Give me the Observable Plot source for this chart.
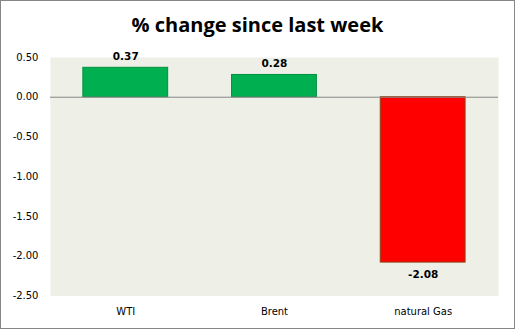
<!DOCTYPE html>
<html><head><meta charset="utf-8">
<script src="https://cdn.jsdelivr.net/npm/d3@7"></script>
<script src="https://cdn.jsdelivr.net/npm/@observablehq/plot@0.6"></script>
<style>
html,body{margin:0;padding:0;background:#fff;}
#wrap{position:relative;width:515px;height:329px;box-sizing:border-box;border:1px solid #868686;overflow:hidden;font-family:"DejaVu Sans",Verdana,sans-serif;}
#title{position:absolute;left:0;top:10px;width:513px;text-align:center;font-family:"Open Sans","Liberation Sans",sans-serif;font-weight:bold;font-size:20px;color:#000;}
#chart{position:absolute;left:-1px;top:39px;}
</style></head>
<body>
<div id="wrap"><div id="title">% change since last week</div><div id="chart"></div></div>
<script>
const categories = ["WTI", "Brent", "natural Gas"];
const values = [0.37, 0.28, -2.08];
const yTicks = [0.5, 0, -0.5, -1, -1.5, -2, -2.5];

const data = categories.map((c, i) => ({cat: c, v: values[i]}));
const fmt = v => v.toFixed(2);

const chart = Plot.plot({
  width: 515,
  height: 290,
  marginLeft: 50,
  marginRight: 16,
  marginTop: 17,
  marginBottom: 34,
  style: {fontFamily: "DejaVu Sans, Verdana, sans-serif", fontSize: "10px", color: "#000", background: "transparent"},
  x: {domain: categories, paddingInner: 0.43, paddingOuter: 0.215, label: null, tickSize: 0, tickPadding: 12},
  y: {domain: [-2.5, 0.5], ticks: yTicks, tickFormat: fmt, label: null, tickSize: 0, tickPadding: 12},
  marks: [
    Plot.frame({fill: "#EEF0E8", stroke: null}),
    Plot.barY(data, {x: "cat", y: "v", fill: d => d.v >= 0 ? "#00B050" : "#FF0000", stroke: d => d.v >= 0 ? "#00913F" : "#8B4513", strokeWidth: 1}),
    Plot.ruleY([0], {stroke: "#868686"}),
    Plot.ruleX([0], {frameAnchor: "left", stroke: "#868686"}),
    Plot.text(data, {x: "cat", y: "v", text: d => fmt(d.v), fontWeight: "bold", fontSize: 10.5,
      lineAnchor: "bottom", filter: d => d.v >= 0, dy: -8}),
    Plot.text(data, {x: "cat", y: "v", text: d => fmt(d.v), fontWeight: "bold", fontSize: 10.5,
      lineAnchor: "top", filter: d => d.v < 0, dy: 8})
  ]
});
document.getElementById("chart").appendChild(chart);
</script>
</body></html>
